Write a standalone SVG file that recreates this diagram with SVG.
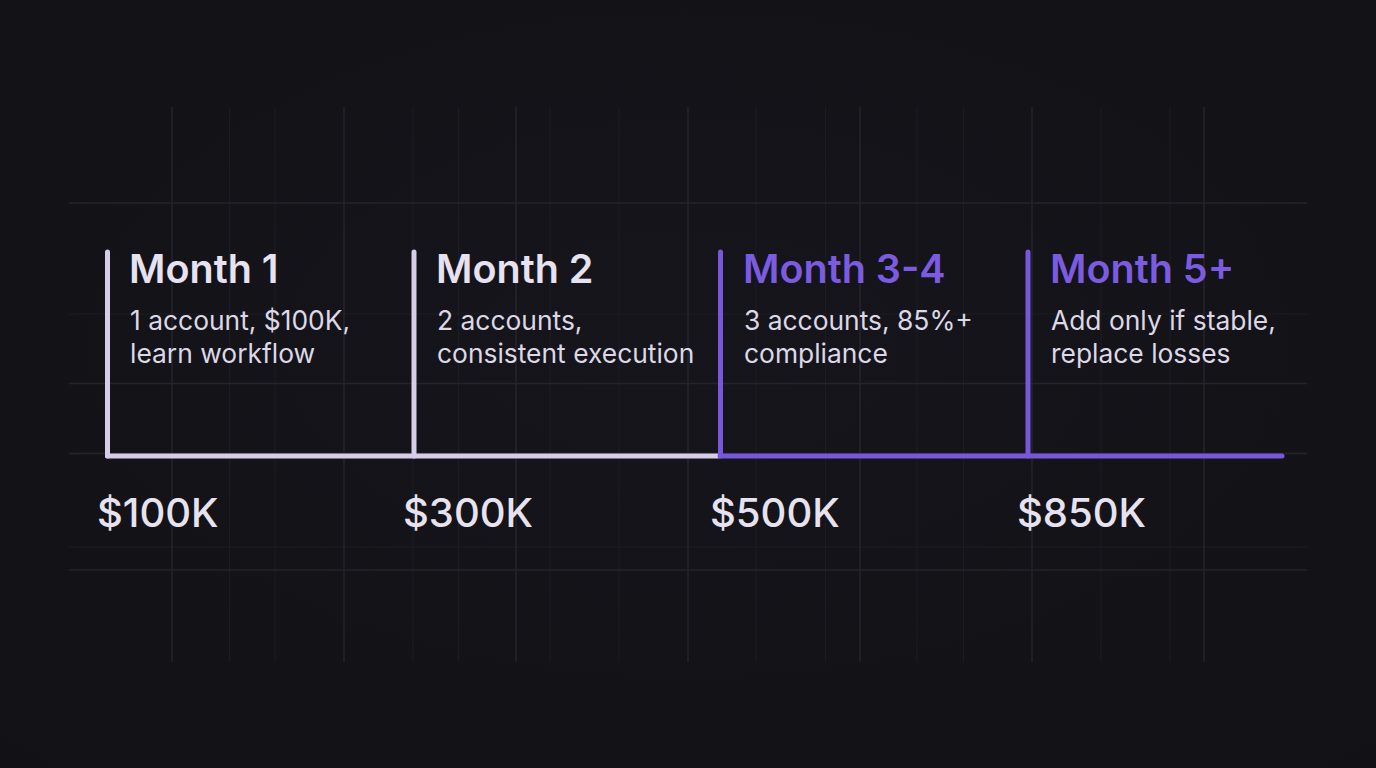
<svg xmlns="http://www.w3.org/2000/svg" width="1376" height="768" viewBox="0 0 1376 768">
  <defs>
    <radialGradient id="bg" cx="50%" cy="45%" r="75%">
      <stop offset="0" stop-color="#16151b"/>
      <stop offset="1" stop-color="#121116"/>
    </radialGradient>
    <style>
      .gmaj { stroke: #25242b; stroke-width: 1.5; fill: none; }
      .gmin { stroke: #1d1c22; stroke-width: 1.2; fill: none; }
      .title { font-family: Inter, "Liberation Sans", sans-serif; font-size: 39.5px; font-weight: 600; }
      .body { font-family: Inter, "Liberation Sans", sans-serif; font-size: 26.4px; font-weight: 400; fill: #dcd8e6; }
      .money { font-family: Inter, "Liberation Sans", sans-serif; font-size: 40px; font-weight: 500; fill: #e6e2ef; }
      .light { fill: #e6e2f0; }
      .purple { fill: #7b5ce0; }
      .barL { stroke: #d6cde8; stroke-width: 5; stroke-linecap: round; fill: none; }
      .barP { stroke: #7757dc; stroke-width: 5; stroke-linecap: round; fill: none; }
    </style>
  </defs>
  <rect width="1376" height="768" fill="url(#bg)"/>

  <g id="grid">
    <g class="gmin">
      <line x1="229.6" y1="107" x2="229.6" y2="662"/>
      <line x1="275" y1="107" x2="275" y2="662"/>
      <line x1="413" y1="107" x2="413" y2="662"/>
      <line x1="458.6" y1="107" x2="458.6" y2="662"/>
      <line x1="550" y1="107" x2="550" y2="662"/>
      <line x1="619" y1="107" x2="619" y2="662"/>
      <line x1="756" y1="107" x2="756" y2="662"/>
      <line x1="825.5" y1="107" x2="825.5" y2="662"/>
      <line x1="917" y1="107" x2="917" y2="662"/>
      <line x1="963.5" y1="107" x2="963.5" y2="662"/>
      <line x1="1101" y1="107" x2="1101" y2="662"/>
      <line x1="1170" y1="107" x2="1170" y2="662"/>
      <line x1="69" y1="314" x2="1307" y2="314"/>
      <line x1="69" y1="547" x2="1307" y2="547"/>
    </g>
    <g class="gmaj">
      <line x1="172" y1="107" x2="172" y2="662"/>
      <line x1="344" y1="107" x2="344" y2="662"/>
      <line x1="516" y1="107" x2="516" y2="662"/>
      <line x1="688" y1="107" x2="688" y2="662"/>
      <line x1="860" y1="107" x2="860" y2="662"/>
      <line x1="1032" y1="107" x2="1032" y2="662"/>
      <line x1="1204" y1="107" x2="1204" y2="662"/>
      <line x1="69" y1="203" x2="1307" y2="203"/>
      <line x1="69" y1="383.5" x2="1307" y2="383.5"/>
      <line x1="69" y1="453.5" x2="1307" y2="453.5"/>
      <line x1="69" y1="570" x2="1307" y2="570"/>
    </g>
  </g>

  <g id="connectors">
    <line class="barL" x1="107.5" y1="456" x2="718" y2="456"/>
    <line class="barP" x1="720" y1="456" x2="1282" y2="456"/>
  </g>

  <g id="month1">
    <line class="barL" x1="107.5" y1="252" x2="107.5" y2="456"/>
    <text class="title light" x="129" y="283">Month 1</text>
    <text class="body" x="130" y="330">1 account, $100K,</text>
    <text class="body" x="130" y="363">learn workflow</text>
    <text class="money" x="97" y="527">$100K</text>
  </g>

  <g id="month2">
    <line class="barL" x1="414" y1="252" x2="414" y2="456"/>
    <text class="title light" x="436" y="283">Month 2</text>
    <text class="body" x="437" y="330">2 accounts,</text>
    <text class="body" x="437" y="363">consistent execution</text>
    <text class="money" x="403" y="527">$300K</text>
  </g>

  <g id="month3-4">
    <line class="barP" x1="720.5" y1="252" x2="720.5" y2="456"/>
    <text class="title purple" x="743" y="283">Month 3-4</text>
    <text class="body" x="744" y="330">3 accounts, 85%+</text>
    <text class="body" x="744" y="363">compliance</text>
    <text class="money" x="710" y="527">$500K</text>
  </g>

  <g id="month5">
    <line class="barP" x1="1028" y1="252" x2="1028" y2="456"/>
    <text class="title purple" x="1050" y="283">Month 5+</text>
    <text class="body" x="1051" y="330">Add only if stable,</text>
    <text class="body" x="1051" y="363">replace losses</text>
    <text class="money" x="1017" y="527">$850K</text>
  </g>
</svg>
